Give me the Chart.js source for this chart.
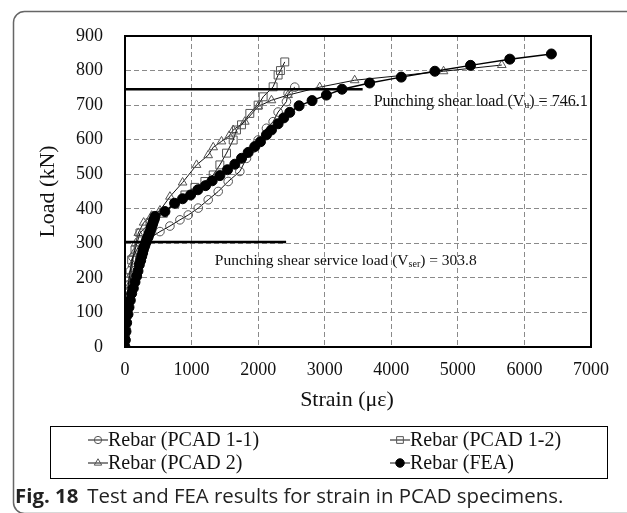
<!DOCTYPE html>
<html><head><meta charset="utf-8">
<script src="https://cdn.jsdelivr.net/npm/chart.js@4/dist/chart.umd.min.js"></script>
<style>html,body{margin:0;padding:0;background:#fff}#wrap{width:627px;height:513px;position:relative}</style>
</head><body><div id="wrap"><canvas id="c" width="627" height="513"></canvas></div>
<script>
// ---- data (strain in micro-strain, load in kN) ----
const xTickValues = [0, 1000, 2000, 3000, 4000, 5000, 6000, 7000];
const yTickValues = [0, 100, 200, 300, 400, 500, 600, 700, 800, 900];
const seriesNames = ['Rebar (PCAD 1-1)', 'Rebar (PCAD 1-2)', 'Rebar (PCAD 2)', 'Rebar (FEA)'];
const pcad11 = [[0,0],[5,30],[10,60],[20,100],[30,140],[50,180],[80,220],[120,260],[200,290],[330,310],[525,334],[675,350],[825,368],[950,382],[1100,402],[1250,426],[1400,450],[1550,479],[1725,508],[1825,546],[1925,575],[2000,599],[2125,633],[2225,652],[2300,680],[2425,710],[2450,734],[2550,752]];
const pcad12 = [[0,0],[5,40],[10,80],[20,120],[35,156],[60,200],[100,252],[150,281],[225,330],[375,360],[575,387],[750,415],[900,440],[1050,462],[1200,479],[1325,498],[1425,527],[1525,561],[1625,599],[1675,628],[1750,643],[1875,676],[2000,700],[2075,724],[2225,753],[2300,787],[2335,800],[2400,825]];
const pcad2 = [[0,0],[10,30],[20,60],[30,90],[40,120],[55,150],[70,180],[90,210],[110,240],[130,270],[160,300],[200,330],[280,360],[400,380],[525,395],[675,435],[865,476],[1075,527],[1250,555],[1325,578],[1450,595],[1565,611],[1625,628],[1800,652],[2000,696],[2200,714],[2450,729],[2925,752],[3450,772],[4785,798],[5660,816]];
const fea = [[0,0],[5,20],[15,45],[25,70],[45,95],[60,115],[80,135],[100,155],[125,170],[150,188],[175,205],[195,220],[215,238],[235,250],[250,262],[265,272],[275,281],[290,290],[300,296],[315,303],[325,310],[340,316],[350,320],[365,328],[375,334],[390,342],[400,349],[415,356],[425,363],[440,370],[450,378],[600,392],[745,416],[865,429],[985,440],[1095,455],[1210,467],[1310,481],[1425,496],[1540,513],[1650,529],[1750,546],[1850,563],[1950,580],[2035,594],[2125,614],[2200,628],[2300,646],[2385,663],[2475,679],[2615,698],[2810,713],[3025,729],[3260,746],[3675,764],[4150,781],[4655,798],[5190,815],[5780,833],[6405,848]];
const ultimateLoad = 746.1, ultimateLineEnd = 3570;
const serviceLoad = 303.8, serviceLineEnd = 2420;
const ultimateLabelAt = [3735, 709];
const serviceLabelAt = [1350, 250];

const toXY = arr => arr.map(p => ({x: p[0], y: p[1]}));
const SERIF = '"Liberation Serif", "Times New Roman", serif';
const SANS = '"Open Sans", "Noto Sans", sans-serif';

const openPoint = (style, r) => ({pointStyle: style, pointRadius: r, pointHoverRadius: r, pointBorderColor: '#555', pointBackgroundColor: 'rgba(0,0,0,0)', pointBorderWidth: 1});

const datasets = [
  Object.assign({label: seriesNames[0], data: toXY(pcad11), borderColor: '#111', borderWidth: 1, showLine: true, order: 2}, openPoint('circle', 4.3)),
  Object.assign({label: seriesNames[1], data: toXY(pcad12), borderColor: '#111', borderWidth: 1, showLine: true, order: 3}, openPoint('rect', 5.6)),
  Object.assign({label: seriesNames[2], data: toXY(pcad2), borderColor: '#111', borderWidth: 1, showLine: true, order: 4}, openPoint('triangle', 5)),
  {label: seriesNames[3], data: toXY(fea), borderColor: '#000', borderWidth: 1.5, showLine: true, order: 1,
   pointStyle: 'circle', pointRadius: 5, pointHoverRadius: 5, pointBackgroundColor: '#000', pointBorderColor: '#000', pointBorderWidth: 1},
  {label: 'Vu', data: [{x: 0, y: ultimateLoad}, {x: ultimateLineEnd, y: ultimateLoad}], borderColor: '#000', borderWidth: 2.5, pointRadius: 0, showLine: true, order: 0},
  {label: 'Vser', data: [{x: 0, y: serviceLoad}, {x: serviceLineEnd, y: serviceLoad}], borderColor: '#000', borderWidth: 2.5, pointRadius: 0, showLine: true, order: 0}
];

function drawSubText(ctx, x, y, parts, size) {
  let cx = x;
  parts.forEach(([t, sub]) => {
    ctx.font = (sub ? Math.round(size * 0.62) : size) + 'px ' + SERIF;
    ctx.fillText(t, cx, sub ? y + size * 0.22 : y);
    cx += ctx.measureText(t).width;
  });
}

const decor = {
  id: 'decor',
  beforeDraw(chart) {
    const ctx = chart.ctx;
    ctx.save();
    ctx.fillStyle = '#fff';
    ctx.fillRect(0, 0, chart.width, chart.height);
    ctx.strokeStyle = '#666';
    ctx.lineWidth = 1.5;
    ctx.beginPath();
    ctx.roundRect(13.5, 11.5, 700, 502, 11);
    ctx.stroke();
    ctx.restore();
  },
  afterDatasetsDraw(chart) {
    const ctx = chart.ctx, a = chart.chartArea, xs = chart.scales.x, ys = chart.scales.y;
    ctx.save();
    ctx.strokeStyle = '#000';
    ctx.lineWidth = 2;
    ctx.strokeRect(a.left, a.top, a.right - a.left, a.bottom - a.top);
    ctx.fillStyle = '#111';
    ctx.textBaseline = 'middle';
    ctx.textAlign = 'left';
    drawSubText(ctx, xs.getPixelForValue(ultimateLabelAt[0]), ys.getPixelForValue(ultimateLabelAt[1]),
      [['Punching shear load (V', false], ['u', true], [') = ' + ultimateLoad.toFixed(1), false]], 16);
    drawSubText(ctx, xs.getPixelForValue(serviceLabelAt[0]), ys.getPixelForValue(serviceLabelAt[1]),
      [['Punching shear service load (V', false], ['ser', true], [') = ' + serviceLoad.toFixed(1), false]], 15.5);
    ctx.font = '22px ' + SERIF;
    ctx.textAlign = 'center';
    ctx.fillText('Strain (\u03bc\u03b5)', 347, 400);
    ctx.restore();
  },
  afterDraw(chart) {
    const ctx = chart.ctx;
    ctx.save();
    ctx.strokeStyle = '#000';
    ctx.lineWidth = 1;
    ctx.strokeRect(50.5, 426.5, 557, 52);
    const colX = [88, 390], rowY = [440, 463];
    for (let i = 0; i < 4; i++) {
      const ds = chart.data.datasets[i];
      const x0 = colX[i % 2], y = rowY[Math.floor(i / 2)];
      ctx.strokeStyle = '#111';
      ctx.lineWidth = 1;
      ctx.beginPath(); ctx.moveTo(x0, y); ctx.lineTo(x0 + 20, y); ctx.stroke();
      ctx.strokeStyle = ds.pointBorderColor;
      ctx.fillStyle = ds.pointBackgroundColor;
      Chart.helpers.drawPoint(ctx, {pointStyle: ds.pointStyle, radius: ds.pointRadius * 0.85, borderWidth: 1, rotation: 0}, x0 + 10, y);
      ctx.fillStyle = '#111';
      ctx.font = '20px ' + SERIF;
      ctx.textAlign = 'left';
      ctx.textBaseline = 'middle';
      ctx.fillText(ds.label, x0 + 20, y + 1);
    }
    ctx.textBaseline = 'middle';
    ctx.fillStyle = '#222';
    ctx.font = 'bold 20.4px ' + SANS;
    const cap1 = 'Fig. 18';
    ctx.fillText(cap1, 15, 497);
    const w1 = ctx.measureText(cap1).width;
    ctx.font = '20.4px ' + SANS;
    ctx.fillText('Test and FEA results for strain in PCAD specimens.', 15 + w1 + 9, 497);
    ctx.restore();
  }
};

new Chart(document.getElementById('c'), {
  type: 'scatter',
  data: {datasets},
  plugins: [decor],
  options: {
    responsive: false,
    animation: false,
    layout: {padding: {left: 0, top: 36, right: 36, bottom: 126}},
    plugins: {legend: {display: false}, tooltip: {enabled: false}},
    scales: {
      x: {
        type: 'linear', min: 0, max: 7000,
        afterBuildTicks: s => { s.ticks = xTickValues.map(v => ({value: v})); },
        afterFit: s => { s.height = 40; },
        ticks: {color: '#111', font: {family: SERIF, size: 18}, padding: 12, maxRotation: 0, autoSkip: false, callback: v => String(v)},
        grid: {color: '#8a8a8a', lineWidth: 1, drawTicks: false},
        border: {display: true, color: '#000', width: 2, dash: [5, 3]},
        title: {display: false}
      },
      y: {
        type: 'linear', min: 0, max: 900,
        afterBuildTicks: s => { s.ticks = yTickValues.map(v => ({value: v})); },
        afterFit: s => { s.width = 125; },
        ticks: {color: '#111', font: {family: SERIF, size: 18}, padding: 22, autoSkip: false, callback: v => String(v)},
        grid: {color: '#8a8a8a', lineWidth: 1, drawTicks: false},
        border: {display: true, color: '#000', width: 2, dash: [5, 3]},
        title: {display: true, text: 'Load (kN)', color: '#111', font: {family: SERIF, size: 22}, padding: {top: 35, bottom: 0}}
      }
    }
  }
});
</script>
</body></html>
